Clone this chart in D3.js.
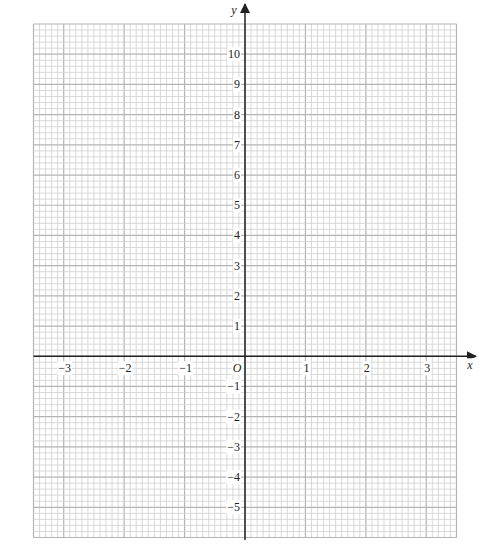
<!DOCTYPE html>
<html>
<head>
<meta charset="utf-8">
<script src="https://cdn.jsdelivr.net/npm/d3@7"></script>
<style>
  body { margin: 0; background: #fff; }
  svg { display: block; }
</style>
</head>
<body>
<div id="chart"></div>
<script>
const xDomain = [-3.5, 3.5];
const yDomain = [-6, 11];
const xTicks = [-3, -2, -1, 1, 2, 3];
const yTicks = [-5, -4, -3, -2, -1, 1, 2, 3, 4, 5, 6, 7, 8, 9, 10];
const xMinorStep = 0.1;
const yMinorStep = 0.2;

const width = 491, height = 549;
const x = d3.scaleLinear().domain(xDomain).range([33.5, 456.5]);
const y = d3.scaleLinear().domain(yDomain).range([537.5, 24]);

const svg = d3.select('#chart').append('svg')
  .attr('width', width)
  .attr('height', height);

const grid = svg.append('g').attr('class', 'grid');

const xLines = d3.range(Math.round((xDomain[1] - xDomain[0]) / xMinorStep) + 1)
  .map(i => +(xDomain[0] + i * xMinorStep).toFixed(2));
const yLines = d3.range(Math.round((yDomain[1] - yDomain[0]) / yMinorStep) + 1)
  .map(i => +(yDomain[0] + i * yMinorStep).toFixed(2));

const isMajor = v => Math.abs(v - Math.round(v)) < 1e-6;

grid.selectAll('line.v')
  .data(xLines)
  .enter().append('line')
  .attr('x1', d => x(d)).attr('x2', d => x(d))
  .attr('y1', y(yDomain[0])).attr('y2', y(yDomain[1]))
  .attr('stroke', d => isMajor(d) || d === xDomain[0] || d === xDomain[1] ? '#b4b4b4' : '#cfcfcf')
  .attr('stroke-width', d => isMajor(d) || d === xDomain[0] || d === xDomain[1] ? 1.2 : 0.8);

grid.selectAll('line.h')
  .data(yLines)
  .enter().append('line')
  .attr('y1', d => y(d)).attr('y2', d => y(d))
  .attr('x1', x(xDomain[0])).attr('x2', x(xDomain[1]))
  .attr('stroke', d => isMajor(d) ? '#b4b4b4' : '#cfcfcf')
  .attr('stroke-width', d => isMajor(d) ? 1.2 : 0.8);

// axes
const axisColor = '#222';
svg.append('defs').append('marker')
  .attr('id', 'arrow')
  .attr('viewBox', '0 0 10 10')
  .attr('refX', 9).attr('refY', 5)
  .attr('markerWidth', 10).attr('markerHeight', 10)
  .attr('markerUnits', 'userSpaceOnUse')
  .attr('orient', 'auto')
  .append('path').attr('d', 'M0,0L10,5L0,10Z').attr('fill', axisColor);

svg.append('line')
  .attr('x1', 33.5).attr('x2', 476)
  .attr('y1', y(0)).attr('y2', y(0))
  .attr('stroke', axisColor).attr('stroke-width', 1.5)
  .attr('marker-end', 'url(#arrow)');

svg.append('line')
  .attr('x1', x(0)).attr('x2', x(0))
  .attr('y1', 540).attr('y2', 4)
  .attr('stroke', axisColor).attr('stroke-width', 1.5)
  .attr('marker-end', 'url(#arrow)');

const font = '"Liberation Serif", "Times New Roman", serif';
const fmt = v => v < 0 ? '\u2212' + Math.abs(v) : String(v);

function label(g, tx, ty, text, anchor, italic) {
  const t = g.append('text')
    .attr('x', tx).attr('y', ty)
    .attr('text-anchor', anchor)
    .attr('font-family', font)
    .attr('font-size', 12)
    .attr('font-style', italic ? 'italic' : 'normal')
    .attr('fill', '#222')
    .text(text);
  const b = t.node().getBBox();
  g.insert('rect', () => t.node())
    .attr('x', b.x - 1).attr('y', b.y).attr('width', b.width + 2).attr('height', b.height)
    .attr('fill', '#fff');
}

const labels = svg.append('g');
xTicks.forEach(v => label(labels, x(v) + 1, y(0) + 16, fmt(v), 'middle', false));
yTicks.forEach(v => label(labels, x(0) - 5, y(v) + 4, fmt(v), 'end', false));
label(labels, x(0) - 8, y(0) + 16, 'O', 'middle', true);
label(labels, 470, y(0) + 13, 'x', 'middle', true);
label(labels, 234, 14, 'y', 'middle', true);
</script>
</body>
</html>
